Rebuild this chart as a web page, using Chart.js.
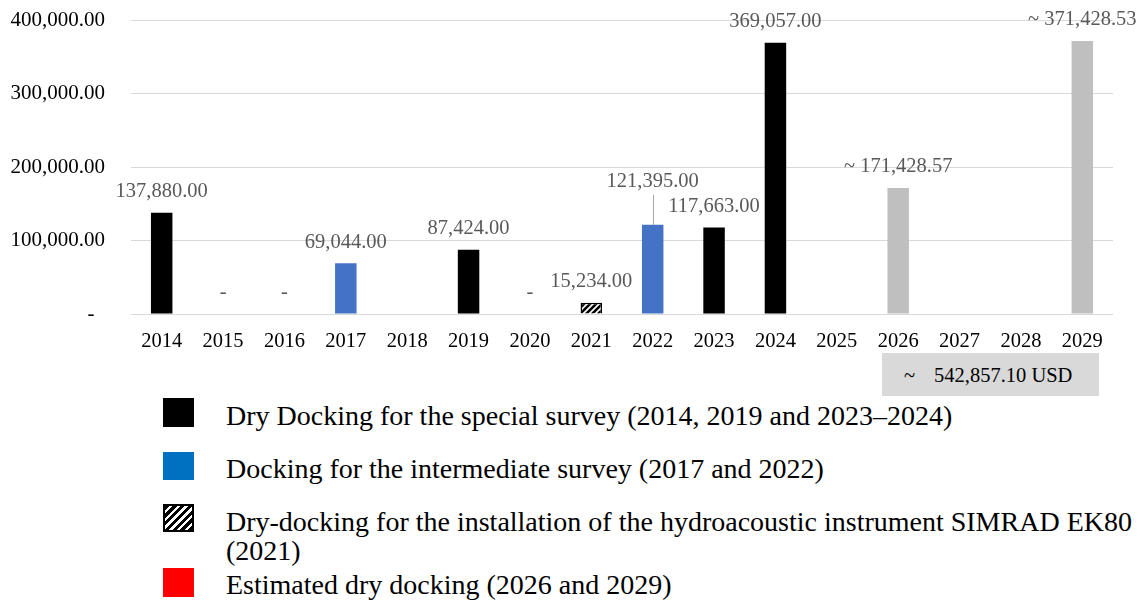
<!DOCTYPE html>
<html>
<head>
<meta charset="utf-8">
<script src="https://cdn.jsdelivr.net/npm/chart.js@4/dist/chart.umd.min.js"></script>
<style>
  html, body { margin: 0; padding: 0; background: #fff; }
  #wrap { position: relative; width: 1140px; height: 604px; overflow: hidden; font-family: "Liberation Serif", "Times New Roman", serif; }
  #chart { position: absolute; left: 0; top: 0; }
  .total { position: absolute; left: 882px; top: 353px; width: 217px; height: 43px; background: #d9d9d9; color: #000; font-size: 20.5px; }
  .total span { position: absolute; top: 10px; line-height: 24px; white-space: nowrap; }
  .sw { position: absolute; left: 163px; width: 31px; box-sizing: border-box; }
  .lt { position: absolute; left: 226px; font-size: 28px; line-height: 28px; color: #000; white-space: nowrap; }
</style>
</head>
<body>
<div id="wrap">
  <canvas id="chart" width="1140" height="350"></canvas>

  <div class="total"><span style="left:22px">~</span><span style="left:52px">542,857.10 USD</span></div>

  <div class="sw" style="top:398px;height:29px;background:#000"></div>
  <div class="lt" style="top:402px">Dry Docking for the special survey (2014, 2019 and 2023–2024)</div>

  <div class="sw" style="top:452px;height:28px;background:#0070c0"></div>
  <div class="lt" style="top:455px">Docking for the intermediate survey (2017 and 2022)</div>

  <div class="sw" style="top:504px;height:28px;border:2px solid #000;background:repeating-linear-gradient(135deg,#000 0px,#000 3px,#fff 3px,#fff 5.5px)"></div>
  <div class="lt" style="top:508px">Dry-docking for the installation of the hydroacoustic instrument SIMRAD EK80</div>
  <div class="lt" style="top:537px">(2021)</div>

  <div class="sw" style="top:568px;height:29px;background:#ff0000"></div>
  <div class="lt" style="top:571px">Estimated dry docking (2026 and 2029)</div>
</div>

<script>
// Years on the category axis
const years = ['2014','2015','2016','2017','2018','2019','2020','2021','2022','2023','2024','2025','2026','2027','2028','2029'];

// Docking costs (USD) per year; 0 = no docking cost, null = nothing shown
const specialSurvey      = [137880, 0, 0, null, null, 87424, 0, null, null, 117663, 369057, null, null, null, null, null];
const intermediateSurvey = [null, null, null, 69044, null, null, null, null, 121395, null, null, null, null, null, null, null];
const ek80Installation   = [null, null, null, null, null, null, null, 15234, null, null, null, null, null, null, null, null];
const estimatedDocking   = [null, null, null, null, null, null, null, null, null, null, null, null, 171428.57, null, null, 371428.53];

// Value axis ticks
const yTicks = [0, 100000, 200000, 300000, 400000];

const fmt = v => v.toLocaleString('en-US', { minimumFractionDigits: 2, maximumFractionDigits: 2 });
const SERIF = '"Liberation Serif", "Times New Roman", serif';

// Diagonal hatch fill for the EK80 installation bar
function hatch() {
  const c = document.createElement('canvas');
  c.width = 6; c.height = 6;
  const g = c.getContext('2d');
  g.fillStyle = '#fff'; g.fillRect(0, 0, 6, 6);
  g.strokeStyle = '#000'; g.lineWidth = 2.6;
  g.beginPath();
  g.moveTo(-1, 7); g.lineTo(7, -1);
  g.moveTo(-4, 4); g.lineTo(4, -4);
  g.moveTo(2, 10); g.lineTo(10, 2);
  g.stroke();
  return g.createPattern(c, 'repeat');
}

// Value labels above every bar; zero values read "-", estimates get "~"
const valueLabels = {
  id: 'valueLabels',
  afterDatasetsDraw(chart, args, opts) {
    const ctx = chart.ctx;
    ctx.save();
    ctx.font = '20.5px ' + SERIF;
    ctx.textAlign = 'center';
    ctx.textBaseline = 'middle';
    chart.data.datasets.forEach((ds, di) => {
      const meta = chart.getDatasetMeta(di);
      meta.data.forEach((bar, i) => {
        const v = ds.data[i];
        if (v === null || v === undefined) return;
        const text = v === 0 ? '-' : (ds.approx ? '~ ' : '') + fmt(v);
        const lift = (opts.raised && opts.raised[years[i]]) || opts.gap;
        const y = bar.y - lift;
        if (lift > opts.gap) {
          ctx.strokeStyle = '#a6a6a6';
          ctx.lineWidth = 1;
          ctx.beginPath();
          ctx.moveTo(Math.round(bar.x) + 0.5, y + 13);
          ctx.lineTo(Math.round(bar.x) + 0.5, bar.y);
          ctx.stroke();
        }
        ctx.fillStyle = '#595959';
        ctx.fillText(text, bar.x, y);
      });
    });
    ctx.restore();
  }
};

const common = { grouped: false, categoryPercentage: 1, barPercentage: 0.35, borderWidth: 0 };

new Chart(document.getElementById('chart'), {
  type: 'bar',
  data: {
    labels: years,
    datasets: [
      Object.assign({ label: 'Dry Docking for the special survey', data: specialSurvey, backgroundColor: '#000' }, common),
      Object.assign({ label: 'Docking for the intermediate survey', data: intermediateSurvey, backgroundColor: '#4472c4' }, common),
      Object.assign({ label: 'Dry-docking for the installation of SIMRAD EK80', data: ek80Installation, backgroundColor: hatch() }, common, { borderWidth: 1.5, borderColor: '#000' }),
      Object.assign({ label: 'Estimated dry docking', data: estimatedDocking, backgroundColor: '#bfbfbf', approx: true }, common)
    ]
  },
  options: {
    responsive: false,
    devicePixelRatio: 1,
    animation: false,
    layout: { padding: { top: 20, right: 27, left: 0, bottom: 0 } },
    plugins: {
      legend: { display: false },
      tooltip: { enabled: false },
      valueLabels: { gap: 21, raised: { '2022': 43 } }
    },
    scales: {
      x: {
        grid: { display: false, drawTicks: false },
        border: { display: false },
        ticks: { color: '#000', padding: 15, font: { family: SERIF, size: 20.5 }, maxRotation: 0, autoSkip: false },
        afterFit(s) { s.height = 36; s.paddingLeft = 0; s.paddingRight = 0; }
      },
      y: {
        min: 0, max: 400000,
        afterBuildTicks(s) { s.ticks = yTicks.map(v => ({ value: v })); },
        grid: { color: '#d9d9d9', lineWidth: 1, drawTicks: false },
        border: { display: false },
        ticks: {
          color: '#000', padding: 26,
          font: { family: SERIF, size: 21 },
          callback: v => v === 0 ? '-  ' : fmt(v)
        },
        afterFit(s) { s.width = 131; s.paddingTop = 0; s.paddingBottom = 0; }
      }
    }
  },
  plugins: [valueLabels]
});
</script>
</body>
</html>
